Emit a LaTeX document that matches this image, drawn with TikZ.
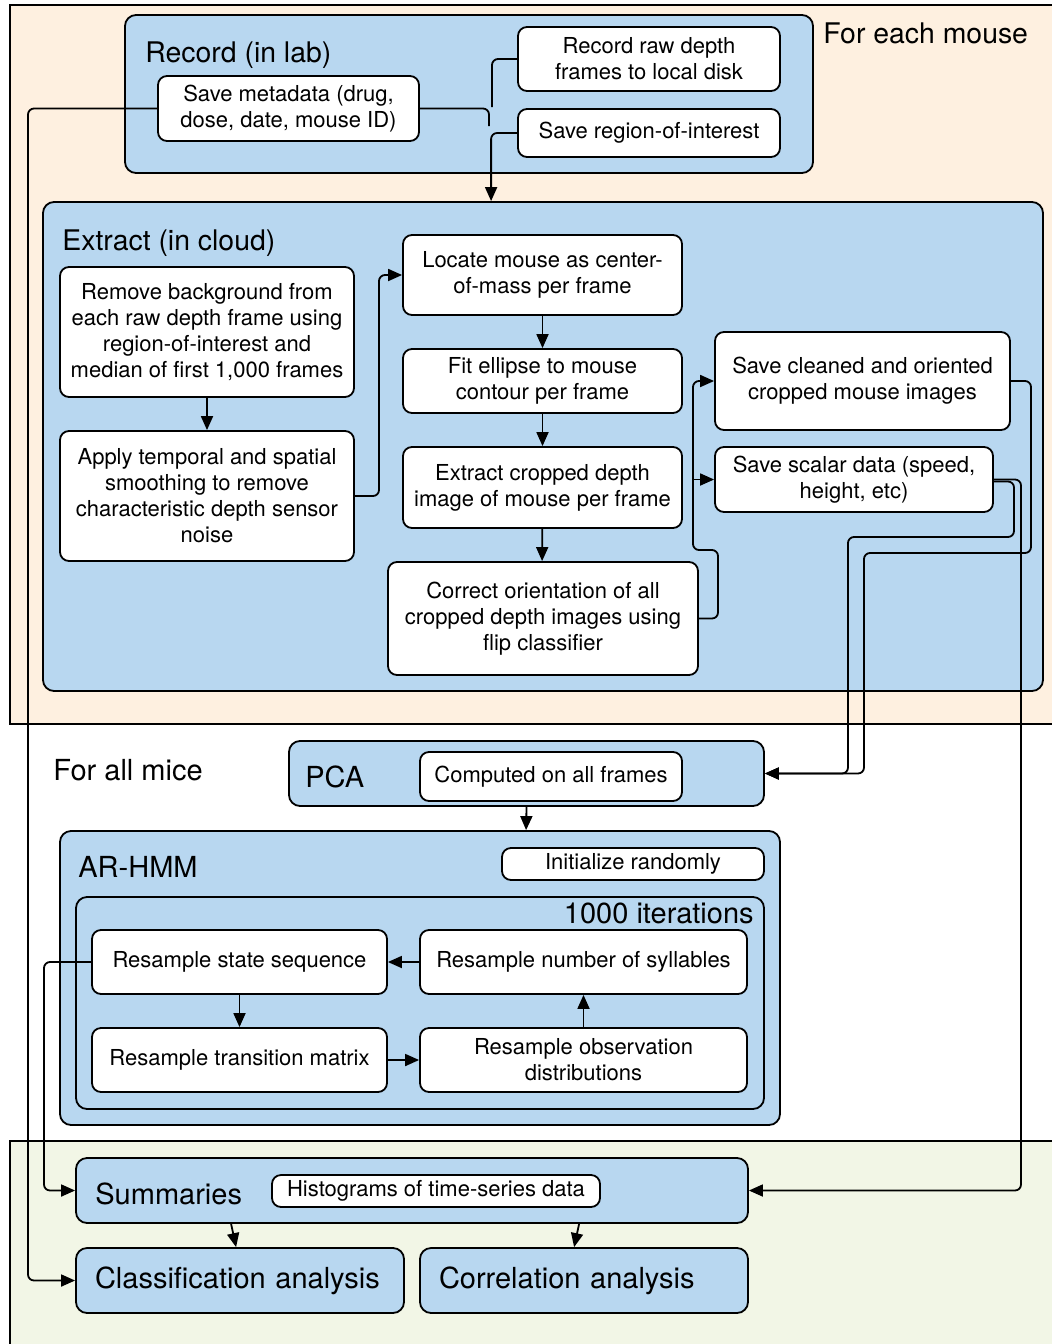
\documentclass[tikz,border=0pt]{standalone}
\usepackage{fontspec}
\setmainfont{TeX Gyre Heros}
\usetikzlibrary{arrows.meta}
\definecolor{boxblue}{RGB}{184,215,240}
\definecolor{peach}{RGB}{254,240,224}
\definecolor{palegreen}{RGB}{242,246,230}
\tikzset{
  wbox/.style={draw=black, fill=white, rounded corners=4.5pt, line width=0.9pt, align=center, font=\fontsize{11}{13}\selectfont, inner sep=0pt},
  bbox/.style={draw=black, fill=boxblue, rounded corners=5.5pt, line width=0.9pt, inner sep=0pt},
  ttl/.style={anchor=base west, inner sep=0pt, font=\fontsize{14.2}{16}\selectfont},
  bigttl/.style={anchor=base west, inner sep=0pt, font=\fontsize{14.5}{17}\selectfont},
  conn/.style={line width=0.9pt, rounded corners=3pt},
  arr/.style={conn, -{Triangle[length=7pt,width=6pt]}},
  frameline/.style={line width=0.9pt},
}
\newcommand{\mkbox}[7]{\node[#6, minimum width={(#4-#2)*0.5pt}, minimum height={(#5-#3)*0.5pt}] (#1) at ({(#2+#4)/2},{(#3+#5)/2}) {#7};}
\begin{document}
\begin{tikzpicture}[x=0.5pt,y=-0.5pt]
\useasboundingbox (0,0) rectangle (1052,1344);
% regions
\fill[peach] (10,5) rectangle (1052,724);
\draw[frameline] (1052,5) -- (10,5) -- (10,724) -- (1052,724);
\fill[palegreen] (10,1141) rectangle (1052,1344);
\draw[frameline] (1052,1141) -- (10,1141) -- (10,1344);
\node[ttl] (foreach) at (823,43) {For each mouse};
\node[bigttl] (forall) at (53,780) {For all mice};

% Record
\mkbox{record}{125}{15}{813}{173}{bbox}{}
\node[ttl] (recordt) at (145,62) {Record (in lab)};
\mkbox{meta}{158}{76}{419}{141}{wbox}{Save metadata (drug,\\dose, date, mouse ID)}
\mkbox{raw}{518}{27}{780}{91}{wbox}{Record raw depth\\frames to local disk}
\mkbox{roi}{518}{109}{780}{157}{wbox}{Save region-of-interest}

% Extract
\mkbox{extract}{43}{202}{1043}{691}{bbox}{}
\node[ttl] (extractt) at (62,250) {Extract (in cloud)};
\mkbox{remove}{60}{267}{354}{397}{wbox}{Remove background from\\each raw depth frame using\\region-of-interest and\\median of first 1,000 frames}
\mkbox{apply}{60}{431}{354}{561}{wbox}{Apply temporal and spatial\\smoothing to remove\\characteristic depth sensor\\noise}
\mkbox{locate}{403}{235}{682}{315}{wbox}{Locate mouse as center-\\of-mass per frame}
\mkbox{fit}{403}{349}{682}{413}{wbox}{Fit ellipse to mouse\\contour per frame}
\mkbox{crop}{403}{447}{682}{528}{wbox}{Extract cropped depth\\image of mouse per frame}
\mkbox{correct}{388}{562}{698}{675}{wbox}{Correct orientation of all\\cropped depth images using\\flip classifier}
\mkbox{cleaned}{715}{332}{1010}{430}{wbox}{Save cleaned and oriented\\cropped mouse images}
\mkbox{scalar}{715}{447}{993}{512}{wbox}{Save scalar data (speed,\\height, etc)}

% PCA
\mkbox{pca}{289}{741}{764}{806}{bbox}{}
\node[bigttl] (pcat) at (305,787) {PCA};
\mkbox{computed}{420}{752}{682}{801}{wbox}{Computed on all frames}

% AR-HMM
\mkbox{arhmm}{60}{831}{780}{1125}{bbox}{}
\node[bigttl] (arhmmt) at (78,877) {AR-HMM};
\mkbox{init}{502}{848}{764}{880}{wbox}{Initialize randomly}
\mkbox{iter}{76}{897}{764}{1109}{bbox}{}
\node[bigttl, anchor=base east] (itert) at (754,923) {1000 iterations};
\mkbox{state}{92}{930}{387}{994}{wbox}{Resample state sequence}
\mkbox{numsyl}{420}{930}{747}{994}{wbox}{Resample number of syllables}
\mkbox{trans}{92}{1028}{387}{1092}{wbox}{Resample transition matrix}
\mkbox{obs}{420}{1028}{747}{1092}{wbox}{Resample observation\\distributions}

% bottom
\mkbox{summ}{76}{1158}{748}{1223}{bbox}{}
\node[bigttl] (summt) at (95,1204) {Summaries};
\mkbox{hist}{272}{1175}{600}{1207}{wbox}{Histograms of time-series data}
\node[bbox, minimum height=32.5pt, text width=145pt, inner xsep=9.5pt, align=left, font=\fontsize{14.5}{17}\selectfont] (class) at (240,1280.5) {Classification analysis};
\node[bbox, minimum height=32.5pt, text width=145pt, inner xsep=9.5pt, align=left, font=\fontsize{14.5}{17}\selectfont] (corr) at (584,1280.5) {Correlation analysis};

% connectors: record
\coordinate (j1) at (492,107);
\coordinate (j2) at (489,126);
\draw[conn] (raw.west) -| (j1);
\draw[conn] (meta.east) -| (j2);
\draw[arr] (roi.west) -| ([xshift=224.5pt]extract.north west);
\draw[arr] (meta.west) -| (28,700) |- (class.west);

% connectors: extract
\draw[arr] (remove) -- (apply);
\draw[arr] (apply.east) -| (379,400) |- (locate.west);
\draw[arr] (locate) -- (fit);
\draw[arr] (fit) -- (crop);
\draw[arr] (crop) -- ([xshift=77.5pt]correct.north west);
\draw[arr] (correct.east) -| (718,550) -| (693,450) |- (cleaned.west);
\draw[arr] ([xshift=-11pt]scalar.west) -- (scalar.west);
\draw[arr] (cleaned.east) -| (1031,553) -| (864,700) |- (pca.east);
\draw[arr] ([yshift=-1pt]scalar.east) -| (1014,537) -| (848,700) |- (pca.east);
\draw[arr] (scalar.east) -| (1021,1000) |- (summ.east);

% connectors: pca / arhmm
\draw[arr] (pca.south) -- ([xshift=233.5pt]arhmm.north west);
\draw[arr] (numsyl) -- (state);
\draw[arr] (state) -- (trans);
\draw[arr] (trans) -- (obs);
\draw[arr] (obs) -- (numsyl);
\draw[arr] (state.west) -| (44,1100) |- (summ.west);

% connectors: bottom
\draw[arr] ([xshift=78pt]summ.south west) -- ([xshift=80.5pt]class.north west);
\draw[arr] ([xshift=252pt]summ.south west) -- ([xshift=77.5pt]corr.north west);
\end{tikzpicture}
\end{document}
